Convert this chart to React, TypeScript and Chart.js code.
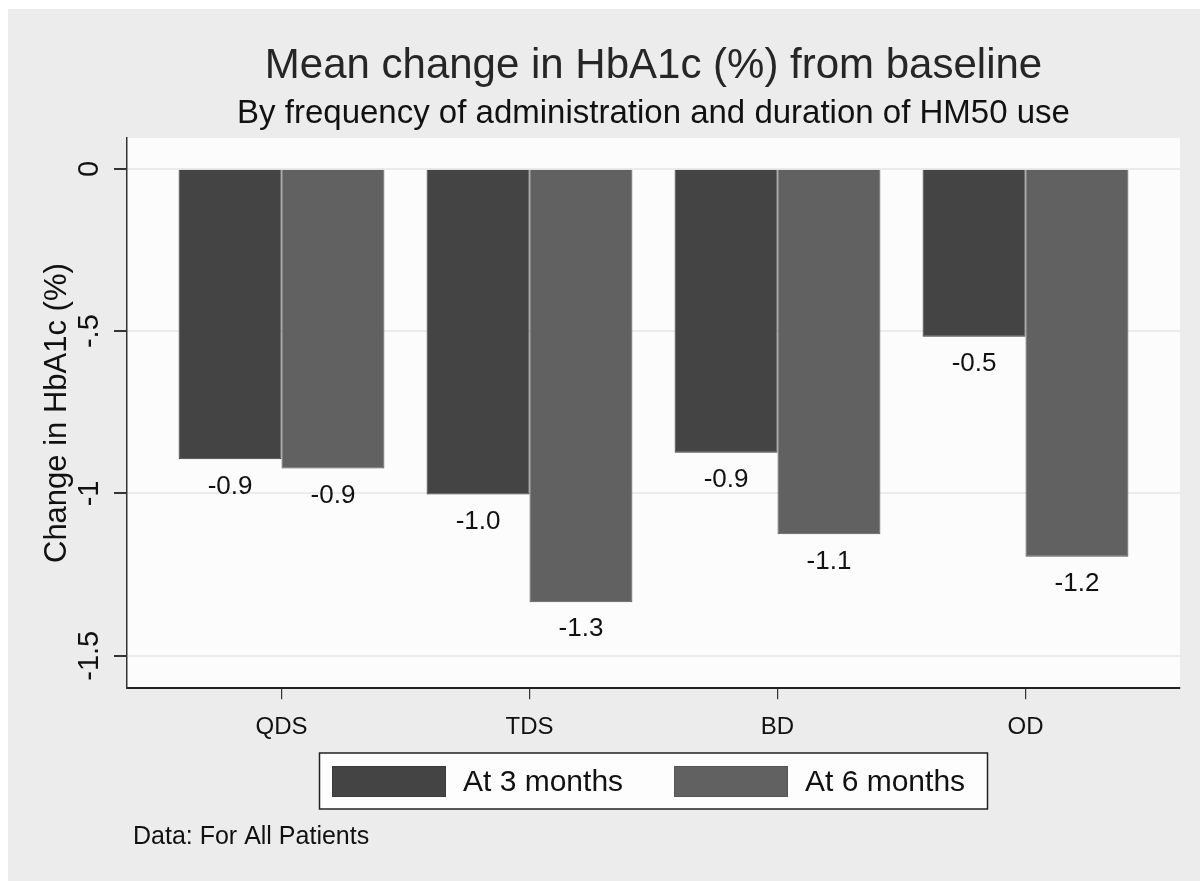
import React, { useEffect, useRef } from "react";
import { Chart, registerables } from "chart.js";

Chart.register(...registerables);

const categories = ["QDS", "TDS", "BD", "OD"];
const seriesLabels = ["At 3 months", "At 6 months"];
const at3Months = [-0.895, -1.003, -0.875, -0.517];
const at6Months = [-0.923, -1.335, -1.126, -1.195];
const yTickValues = [0, -0.5, -1, -1.5];
const yTickLabels = ["0", "-.5", "-1", "-1.5"];
const titleText = "Mean change in HbA1c (%) from baseline";
const subtitleText = "By frequency of administration and duration of HM50 use";
const yAxisTitle = "Change in HbA1c (%)";
const noteText = "Data: For All Patients";

const FONT = "'Liberation Sans', Arial, Helvetica, sans-serif";
const seriesColors = ["#444444", "#616161"];
const seriesBorders = ["#3a3a3a", "#555555"];

const decorPlugin = {
  id: "decor",
  beforeDraw(chart: any) {
    const { ctx, chartArea, width, height } = chart;
    ctx.save();
    ctx.fillStyle = "#ececec";
    ctx.fillRect(0, 0, width, height);
    ctx.fillStyle = "#fcfcfc";
    ctx.fillRect(chartArea.left, chartArea.top, chartArea.right - chartArea.left, chartArea.bottom - chartArea.top);
    ctx.restore();
  },
  afterDatasetsDraw(chart: any) {
    const { ctx } = chart;
    ctx.save();
    ctx.font = `26px ${FONT}`;
    ctx.fillStyle = "#111111";
    ctx.textAlign = "center";
    ctx.textBaseline = "middle";
    chart.data.datasets.forEach((ds: any, di: number) => {
      const meta = chart.getDatasetMeta(di);
      meta.data.forEach((el: any, i: number) => {
        const v = ds.data[i].y;
        ctx.fillText(v.toFixed(1), el.x, el.y + 27);
      });
    });
    ctx.restore();
  },
  afterDraw(chart: any) {
    const { ctx, chartArea, scales } = chart;
    const cx = (chartArea.left + chartArea.right) / 2;
    const cy = (chartArea.top + chartArea.bottom) / 2;
    ctx.save();
    // titles
    ctx.textAlign = "center";
    ctx.textBaseline = "alphabetic";
    ctx.fillStyle = "#262626";
    ctx.font = `42px ${FONT}`;
    ctx.fillText(titleText, cx, 69);
    ctx.fillStyle = "#111111";
    ctx.font = `33px ${FONT}`;
    ctx.fillText(subtitleText, cx, 114);

    // y tick labels (rotated)
    ctx.font = `29px ${FONT}`;
    ctx.fillStyle = "#111111";
    yTickValues.forEach((v, i) => {
      const y = scales.y.getPixelForValue(v);
      ctx.save();
      ctx.translate(81.5, y);
      ctx.rotate(-Math.PI / 2);
      ctx.textAlign = "center";
      ctx.textBaseline = "middle";
      ctx.fillText(yTickLabels[i], 0, 0);
      ctx.restore();
    });

    // y axis title
    ctx.save();
    ctx.font = `31px ${FONT}`;
    ctx.translate(49, cy);
    ctx.rotate(-Math.PI / 2);
    ctx.textAlign = "center";
    ctx.textBaseline = "middle";
    ctx.fillText(yAxisTitle, 0, 0);
    ctx.restore();

    // legend
    const boxL = cx - 334;
    const boxR = cx + 334;
    const boxT = 744;
    const boxB = 800;
    ctx.fillStyle = "#fdfdfd";
    ctx.fillRect(boxL, boxT, boxR - boxL, boxB - boxT);
    ctx.strokeStyle = "#222222";
    ctx.lineWidth = 1.5;
    ctx.strokeRect(boxL, boxT, boxR - boxL, boxB - boxT);
    const swatchX = [boxL + 12.5, boxL + 354.5];
    seriesLabels.forEach((lab, i) => {
      ctx.fillStyle = seriesColors[i];
      ctx.fillRect(swatchX[i], 757, 114, 31);
      ctx.strokeStyle = seriesBorders[i];
      ctx.lineWidth = 1;
      ctx.strokeRect(swatchX[i] + 0.5, 757.5, 113, 30);
      ctx.fillStyle = "#111111";
      ctx.font = `30px ${FONT}`;
      ctx.textAlign = "left";
      ctx.textBaseline = "middle";
      ctx.fillText(lab, swatchX[i] + 131, 774);
    });

    // note
    ctx.font = `25px ${FONT}`;
    ctx.fillStyle = "#111111";
    ctx.textAlign = "left";
    ctx.textBaseline = "alphabetic";
    ctx.fillText(noteText, 125, 835);
    ctx.restore();
  },
};

export default function App() {
  const ref = useRef<HTMLCanvasElement | null>(null);
  useEffect(() => {
    if (!ref.current) return;
    const chart = new Chart(ref.current, {
      type: "bar",
      data: {
        datasets: [at3Months, at6Months].map((vals, di) => ({
          label: seriesLabels[di],
          data: vals.map((y, i) => ({ x: i, y })),
          backgroundColor: seriesColors[di],
          borderColor: seriesBorders[di],
          borderWidth: 1,
          categoryPercentage: 0.83,
          barPercentage: 1,
        })),
      },
      options: {
        responsive: false,
        animation: false,
        layout: { padding: { left: 106, right: 20, top: 129, bottom: 125 } },
        plugins: {
          legend: { display: false },
          title: { display: false },
          tooltip: { enabled: false },
        },
        scales: {
          x: {
            type: "linear",
            min: -0.623,
            max: 3.623,
            offset: false,
            afterBuildTicks: (s: any) => {
              s.ticks = categories.map((_, i) => ({ value: i }));
            },
            ticks: {
              callback: (v: any) => categories[v] ?? "",
              font: { family: FONT, size: 24 },
              color: "#111111",
              padding: 14,
              autoSkip: false,
              maxRotation: 0,
              minRotation: 0,
            },
            grid: {
              offset: false,
              drawOnChartArea: false,
              tickLength: 11,
              tickColor: "#333333",
              lineWidth: 1.2,
            },
            border: { color: "#222222", width: 2 },
          },
          y: {
            type: "linear",
            min: -1.6,
            max: 0.095,
            afterBuildTicks: (s: any) => {
              s.ticks = yTickValues.map((value) => ({ value }));
            },
            ticks: { display: false },
            grid: {
              color: "#ebebeb",
              lineWidth: 2,
              tickColor: "#333333",
              tickLength: 13,
            },
            border: { color: "#333333", width: 1.5 },
          },
        },
      },
      plugins: [decorPlugin],
    } as any);
    return () => chart.destroy();
  }, []);
  return (
    <div style={{ position: "fixed", left: 8, top: 9, width: 1192, height: 872 }}>
      <canvas ref={ref} width={1192} height={872} style={{ display: "block" }} />
    </div>
  );
}
